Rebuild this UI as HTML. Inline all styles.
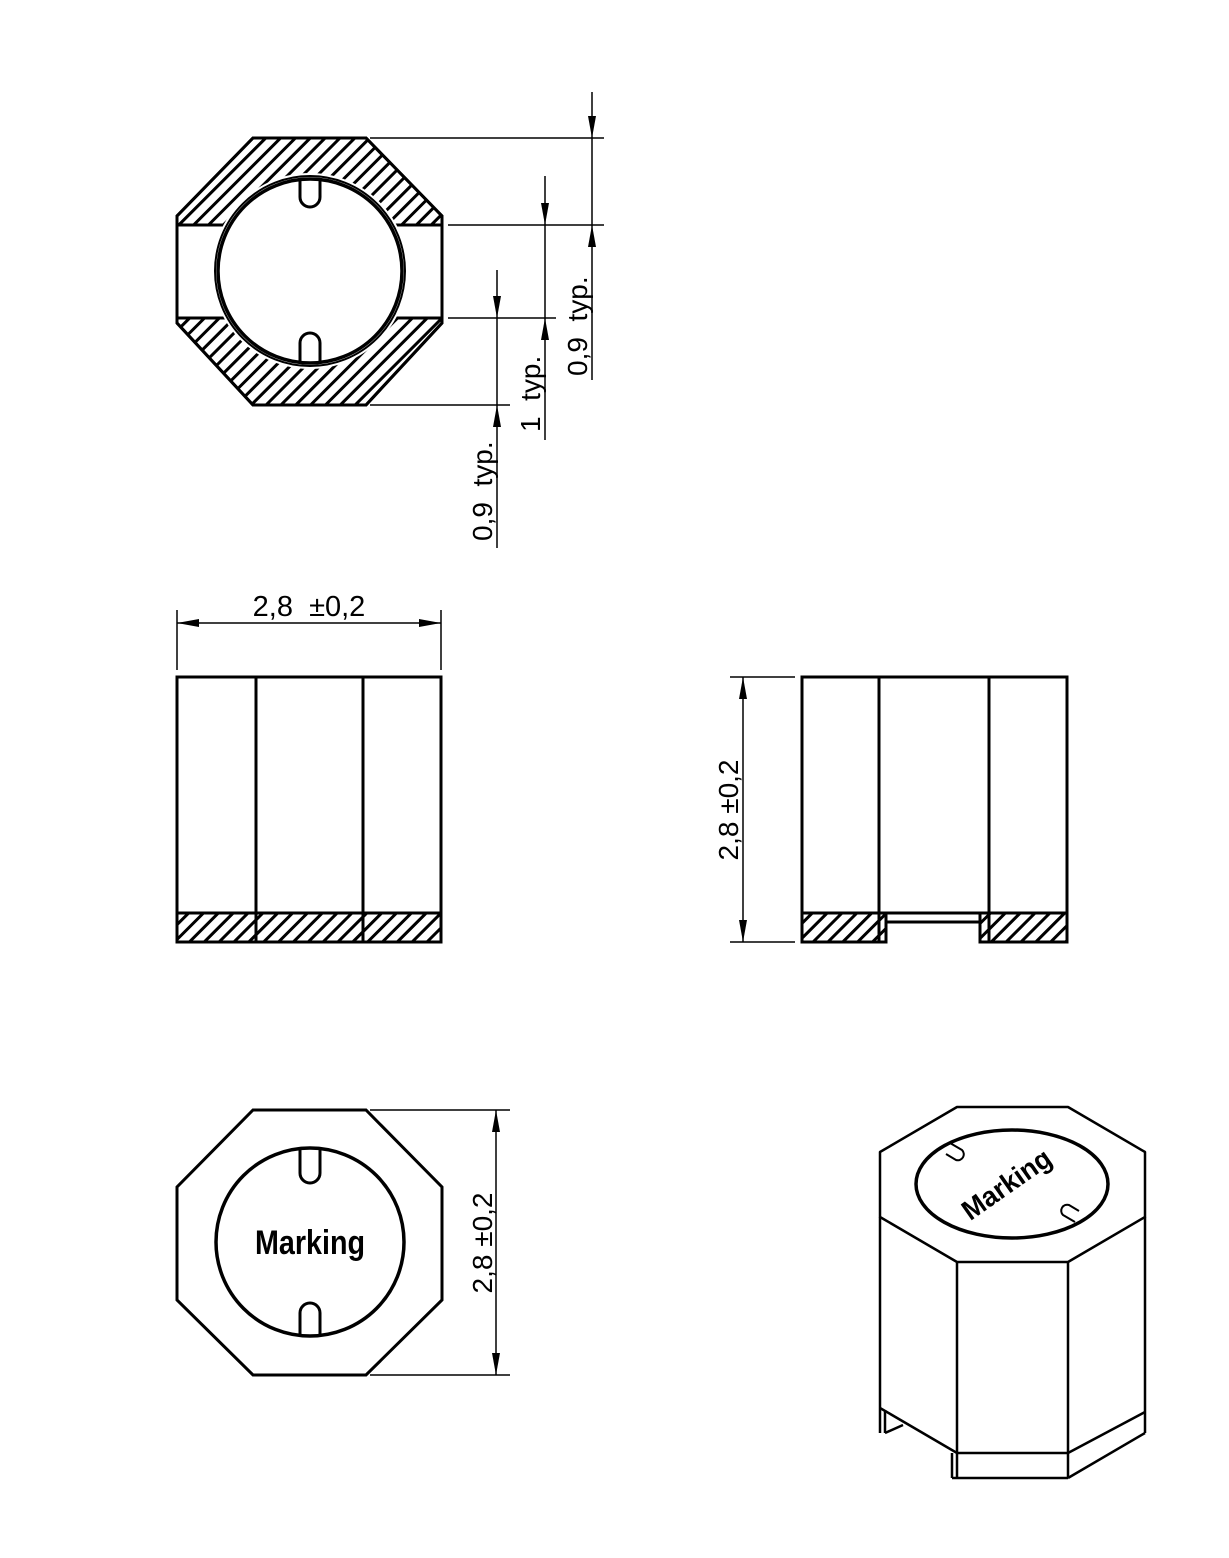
<!DOCTYPE html>
<html><head><meta charset="utf-8"><style>
html,body{margin:0;padding:0;background:#fff}
svg{display:block}
text{font-family:"Liberation Sans",sans-serif;fill:#000}
</style></head><body>
<svg width="1229" height="1558" viewBox="0 0 1229 1558" xmlns="http://www.w3.org/2000/svg">
<defs>
<pattern id="h" width="10.5" height="10.5" patternUnits="userSpaceOnUse" patternTransform="rotate(45)">
<rect width="10.5" height="10.5" fill="#fff"/>
<line x1="2" y1="0" x2="2" y2="10.5" stroke="#000" stroke-width="3"/>
</pattern>
<marker id="a" viewBox="0 0 22 8" refX="22" refY="4" markerWidth="22" markerHeight="8" markerUnits="userSpaceOnUse" orient="auto">
<path d="M0,0 L22,4 L0,8 Z" fill="#000"/>
</marker>
</defs>

<!-- TOP VIEW -->
<g stroke="#000" stroke-width="3" fill="none">
<polygon points="253,138 366,138 442,216 442,323 366,405 253,405 177,323 177,216" fill="url(#h)"/>
<rect x="177" y="225" width="265" height="93" fill="#fff" stroke="none"/>
<polygon points="253,138 366,138 442,216 442,323 366,405 253,405 177,323 177,216"/>
<line x1="177" y1="225" x2="442" y2="225"/>
<line x1="177" y1="318" x2="442" y2="318"/>
<circle cx="310" cy="271" r="98" fill="#fff" stroke="none"/>
<circle cx="310" cy="271" r="95" stroke-width="2"/>
<circle cx="310" cy="271" r="92" stroke-width="3.5"/>
<path d="M300,180 L300,197 A10,10 0 0 0 320,197 L320,180"/>
<path d="M300,362 L300,343 A10,10 0 0 1 320,343 L320,362"/>
</g>
<g stroke="#000" stroke-width="1.5">
<line x1="370" y1="138" x2="604" y2="138"/>
<line x1="448" y1="225" x2="604" y2="225"/>
<line x1="448" y1="318" x2="556" y2="318"/>
<line x1="370" y1="405" x2="510" y2="405"/>
<line x1="592" y1="92" x2="592" y2="138" marker-end="url(#a)"/>
<line x1="592" y1="138" x2="592" y2="225"/>
<line x1="592" y1="380" x2="592" y2="225" marker-end="url(#a)"/>
<line x1="545" y1="176" x2="545" y2="225" marker-end="url(#a)"/>
<line x1="545" y1="225" x2="545" y2="318"/>
<line x1="545" y1="440" x2="545" y2="318" marker-end="url(#a)"/>
<line x1="497" y1="270" x2="497" y2="318" marker-end="url(#a)"/>
<line x1="497" y1="318" x2="497" y2="405"/>
<line x1="497" y1="548" x2="497" y2="405" marker-end="url(#a)"/>
</g>
<text transform="translate(587,376) rotate(-90)" font-size="28">0,9&#160;&#160;typ.</text>
<text transform="translate(540,432) rotate(-90)" font-size="28">1&#160;&#160;typ.</text>
<text transform="translate(492,541) rotate(-90)" font-size="28">0,9&#160;&#160;typ.</text>

<!-- FRONT VIEW -->
<g stroke="#000" stroke-width="3" fill="none">
<rect x="177" y="913" width="264" height="29" fill="url(#h)"/>
<rect x="177" y="677" width="264" height="265"/>
<line x1="256" y1="677" x2="256" y2="942"/>
<line x1="363" y1="677" x2="363" y2="942"/>
<line x1="177" y1="913" x2="441" y2="913"/>
</g>
<g stroke="#000" stroke-width="1.5">
<line x1="177" y1="610" x2="177" y2="670"/>
<line x1="441" y1="610" x2="441" y2="670"/>
<line x1="309" y1="623" x2="177" y2="623" marker-end="url(#a)"/>
<line x1="309" y1="623" x2="441" y2="623" marker-end="url(#a)"/>
</g>
<text x="309" y="616" font-size="29" text-anchor="middle">2,8&#160;&#160;±0,2</text>

<!-- SIDE VIEW -->
<g stroke="#000" stroke-width="3" fill="none">
<rect x="802" y="913" width="84" height="29" fill="url(#h)"/>
<rect x="980" y="913" width="87" height="29" fill="url(#h)"/>
<polyline points="886,942 802,942 802,677 1067,677 1067,942 980,942"/>
<line x1="879" y1="677" x2="879" y2="942"/>
<line x1="989" y1="677" x2="989" y2="942"/>
<line x1="802" y1="913" x2="1067" y2="913"/>
<line x1="886" y1="922" x2="980" y2="922"/>
<line x1="886" y1="913" x2="886" y2="942"/>
<line x1="980" y1="913" x2="980" y2="942"/>
</g>
<g stroke="#000" stroke-width="1.5">
<line x1="730" y1="677" x2="795" y2="677"/>
<line x1="730" y1="942" x2="795" y2="942"/>
<line x1="743" y1="810" x2="743" y2="677" marker-end="url(#a)"/>
<line x1="743" y1="810" x2="743" y2="942" marker-end="url(#a)"/>
</g>
<text transform="translate(738,810) rotate(-90)" font-size="28" text-anchor="middle">2,8 ±0,2</text>

<!-- BOTTOM-LEFT TOP VIEW -->
<g stroke="#000" stroke-width="3" fill="none">
<polygon points="253,1110 366,1110 442,1187 442,1300 366,1375 253,1375 177,1300 177,1187"/>
<circle cx="310" cy="1242" r="94" stroke-width="3.5"/>
<path d="M300,1150 L300,1173 A10,10 0 0 0 320,1173 L320,1150"/>
<path d="M300,1336 L300,1313 A10,10 0 0 1 320,1313 L320,1336"/>
</g>
<text x="310" y="1254" font-size="34" font-weight="bold" text-anchor="middle" textLength="110" lengthAdjust="spacingAndGlyphs">Marking</text>
<g stroke="#000" stroke-width="1.5">
<line x1="370" y1="1110" x2="510" y2="1110"/>
<line x1="370" y1="1375" x2="510" y2="1375"/>
<line x1="496" y1="1242" x2="496" y2="1110" marker-end="url(#a)"/>
<line x1="496" y1="1242" x2="496" y2="1375" marker-end="url(#a)"/>
</g>
<text transform="translate(492,1243) rotate(-90)" font-size="28" text-anchor="middle">2,8 ±0,2</text>

<!-- ISOMETRIC -->
<g stroke="#000" stroke-width="2.5" fill="none" stroke-linejoin="round">
<polygon points="957,1107 1068,1107 1145,1152 1145,1217 1068,1262 957,1262 880,1217 880,1152"/>
<line x1="880" y1="1217" x2="880" y2="1433"/>
<line x1="1145" y1="1217" x2="1145" y2="1433"/>
<line x1="957" y1="1262" x2="957" y2="1478"/>
<line x1="1068" y1="1262" x2="1068" y2="1478"/>
<line x1="880" y1="1408" x2="957" y2="1453"/>
<line x1="1068" y1="1453" x2="1145" y2="1412"/>
<line x1="957" y1="1453" x2="1068" y2="1453"/>
<line x1="952" y1="1453" x2="952" y2="1478"/>
<line x1="952" y1="1478" x2="1068" y2="1478"/>
<line x1="1068" y1="1478" x2="1145" y2="1433"/>
<line x1="885" y1="1410" x2="885" y2="1433"/>
<line x1="885" y1="1433" x2="903" y2="1425"/>
<ellipse cx="1012" cy="1184" rx="96" ry="54" stroke-width="3.5"/>
<path d="M950,1143 L962,1150 A6,6 0 0 1 956,1160 L946,1154" stroke-width="2"/>
<path d="M1075,1222 L1063,1215 A6,6 0 0 1 1069,1205 L1079,1211" stroke-width="2"/>
</g>
<text transform="translate(1012,1192) rotate(-35)" font-size="28" font-weight="bold" text-anchor="middle" textLength="102" lengthAdjust="spacingAndGlyphs">Marking</text>
</svg>
</body></html>
